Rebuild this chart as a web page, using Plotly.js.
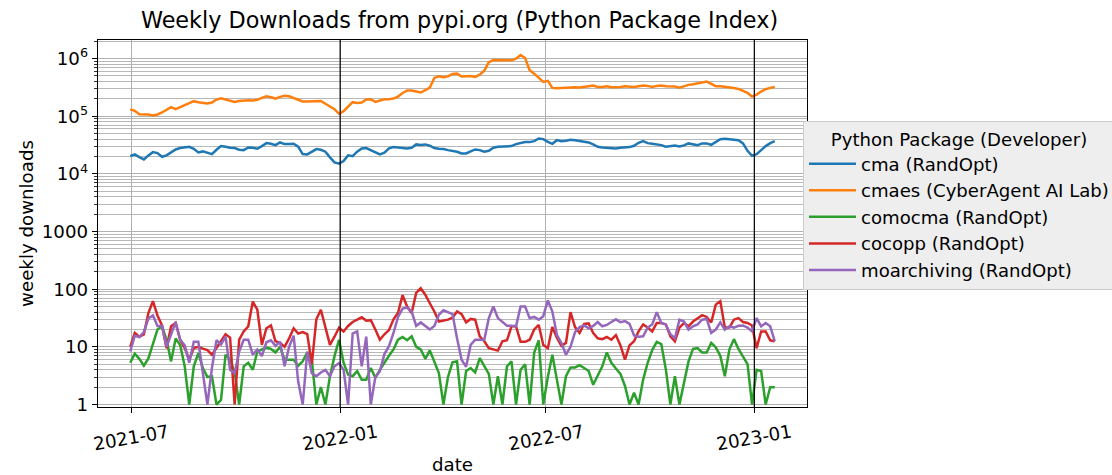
<!DOCTYPE html>
<html><head><meta charset="utf-8">
<script src="https://cdn.plot.ly/plotly-3.0.1.min.js"></script>
<style>html,body{margin:0;padding:0;background:#fff}#chart{width:1112px;height:475px}</style>
</head><body><div id="chart"></div>
<script>
const dates = ['2021-06-30','2021-07-04','2021-07-08','2021-07-12','2021-07-16','2021-07-20','2021-07-24','2021-07-28','2021-08-01','2021-08-05',
'2021-08-09','2021-08-13','2021-08-17','2021-08-21','2021-08-25','2021-08-29','2021-09-02','2021-09-06','2021-09-10','2021-09-14',
'2021-09-18','2021-09-22','2021-09-26','2021-09-30','2021-10-04','2021-10-08','2021-10-12','2021-10-16','2021-10-20','2021-10-24',
'2021-10-28','2021-11-01','2021-11-05','2021-11-09','2021-11-13','2021-11-17','2021-11-21','2021-11-25','2021-11-29','2021-12-03',
'2021-12-07','2021-12-11','2021-12-15','2021-12-19','2021-12-23','2021-12-27','2021-12-31','2022-01-04','2022-01-08','2022-01-12',
'2022-01-16','2022-01-20','2022-01-24','2022-01-28','2022-02-01','2022-02-05','2022-02-09','2022-02-13','2022-02-17','2022-02-21',
'2022-02-25','2022-03-01','2022-03-05','2022-03-09','2022-03-13','2022-03-17','2022-03-21','2022-03-25','2022-03-29','2022-04-02',
'2022-04-06','2022-04-10','2022-04-14','2022-04-18','2022-04-22','2022-04-26','2022-04-30','2022-05-04','2022-05-08','2022-05-12',
'2022-05-16','2022-05-20','2022-05-24','2022-05-28','2022-06-01','2022-06-05','2022-06-09','2022-06-13','2022-06-17','2022-06-21',
'2022-06-25','2022-06-29','2022-07-03','2022-07-07','2022-07-11','2022-07-15','2022-07-19','2022-07-23','2022-07-27','2022-07-31',
'2022-08-04','2022-08-08','2022-08-12','2022-08-16','2022-08-20','2022-08-24','2022-08-28','2022-09-01','2022-09-05','2022-09-09',
'2022-09-13','2022-09-17','2022-09-21','2022-09-25','2022-09-29','2022-10-03','2022-10-07','2022-10-11','2022-10-15','2022-10-19',
'2022-10-23','2022-10-27','2022-10-31','2022-11-04','2022-11-08','2022-11-12','2022-11-16','2022-11-20','2022-11-24','2022-11-28',
'2022-12-02','2022-12-06','2022-12-10','2022-12-14','2022-12-18','2022-12-22','2022-12-26','2022-12-30','2023-01-03','2023-01-07',
'2023-01-11','2023-01-15','2023-01-19'];

const cma = [20300,21700,19500,17800,20900,23800,22900,19800,20900,23500,
26500,28000,29100,29500,27200,23500,24500,23200,22000,26200,
30300,29500,28300,28000,26200,25800,28700,28300,27200,30300,
34100,33200,31500,35000,32800,32800,33200,29500,22000,21700,
24200,26900,26200,24200,19300,15800,15000,16700,20900,20300,
24200,27600,28000,25800,23200,21700,23200,27600,29100,28700,
28000,27600,28300,32400,31500,32400,30700,28000,27200,26900,
25800,25100,24200,22600,22600,24500,26500,25800,24200,25100,
28300,29500,29900,29500,30300,32800,34600,35500,35500,36900,
41100,40000,36000,33200,38400,36900,37400,39000,38400,36900,
36000,35000,32400,29500,28700,28300,28700,27600,28300,28700,
29100,30700,34600,36900,34100,33200,32800,31500,29500,30700,
31100,29900,31100,33700,32400,31500,33700,33700,31900,36000,
40000,40600,39500,39000,38400,33700,25100,20600,22000,25800,
30300,34100,36900];

const cmaes = [131000,124000,108000,108000,107000,103000,107000,116000,131000,143000,
132000,145000,155000,168000,182000,175000,168000,166000,172000,194000,
205000,194000,182000,177000,184000,187000,189000,187000,192000,208000,
222000,213000,202000,216000,225000,222000,208000,194000,180000,180000,
180000,180000,184000,164000,149000,132000,110000,122000,147000,175000,
170000,172000,194000,197000,177000,189000,197000,197000,202000,219000,
253000,278000,278000,267000,257000,282000,313000,461000,492000,473000,
490000,540000,547000,486000,486000,499000,479000,526000,617000,860000,
943000,943000,943000,931000,931000,995000,1150000,1020000,625000,547000,
455000,393000,409000,309000,305000,309000,313000,318000,318000,313000,
318000,331000,339000,322000,322000,331000,318000,318000,322000,331000,
326000,322000,331000,339000,335000,322000,335000,339000,331000,331000,
326000,313000,335000,349000,358000,372000,388000,398000,363000,331000,
331000,326000,313000,309000,297000,278000,253000,219000,237000,267000,
293000,309000,322000];

const comocma = [5.3,7.6,6.2,4.7,6.3,10.8,20,22.7,13.3,5.6,
14,10.8,4.6,1,4.6,7.8,4.3,3,3.1,1,
1.2,7.3,6,3.6,1,4.6,5.3,4,8.3,9,
9.7,9.2,8,10,6,6,6,4.7,5.6,8,
6,1,2,1,3.1,6.9,13.3,5.3,3.3,3.1,
3.8,2.7,2.7,4.3,2.9,4,5.4,7,9,13.3,
14.8,13,15.2,10,9,6.2,8.7,5.6,3.5,1,
3,5.4,5.6,1,3.8,4.3,3.6,6.4,4.7,3.4,
1,3.1,1,4.6,5.6,1,4,5,1,8,
13,1,3,7.3,2.7,1,3.1,4.4,4.4,4.8,
4.3,3.8,2.2,3.1,4.6,8,5.3,4.2,3.4,2.1,
1,1.6,1,2.7,5.3,8.8,12.2,11.2,4.1,1,
3.1,1,2.4,5.6,9.2,9.5,8,8,11.7,9.8,
7,3.1,9,13.6,9.2,6.7,5,1,4,3.8,
1,2,2];

const cocopp = [10,17.4,15,16.5,38.5,62,35,23.5,9.5,22.7,
26,13.3,9.5,6,9.5,10,9.3,8.8,7.3,9.6,
13,16.5,14.5,1,13.3,18.5,22.7,61,44,10.8,
21,23.5,12.5,11.7,10,14,21,17,18,16.6,
5,30,44,22.7,10.8,15,21.5,18.5,23,27,
29.6,32.5,28.5,29,20,13.3,16.5,19.5,30,39,
79,50,38.5,86,104,80,57,41,27.5,28.5,
29.6,32,41,37,26.5,30.5,29.6,15.2,12.5,9.5,
9,8.6,12.5,13,22.7,22.7,12.2,12.2,13.3,20,
24,10.8,9.5,22,14.4,10.4,11.7,40,22,17.4,
25,25.5,17.4,14.1,13.6,14.8,13.3,16,10.6,6,
10.6,12.5,18.5,24.5,21.6,18.5,25.9,25.9,24.5,15.2,
12.5,21.6,25.9,22.7,27.5,31.5,35.5,33,26.5,54,
62,21.6,21.6,29.6,31.5,27,25.9,23.5,9.5,18.5,
18.5,13,12.5];

const moarchiving = [8.3,15.6,14.8,18,31,35,23,23,10,16,
27,13.3,10.6,5.3,12.3,12.3,3.5,1,4.3,13,
11,15,4,3.5,8.3,13.3,13.3,7.3,9,6.9,
12,13,10.4,12.3,4.6,10,15.6,2.5,1,8.3,
3.5,3.1,3.6,4,3.1,4.6,5.2,4,1,17,
18.5,4.6,15,1,3,3.8,7.5,10.3,17.4,33,
46,48,41,23,26.5,22.7,20,23,36,43,
39.5,37,14.1,6,4.5,10.8,13.3,13.3,13.3,31.5,
50,31.5,27.5,23.2,23.2,22.7,50,50,31.5,33,
29.6,34,64,41,16.2,11.7,7.3,10,18,22,
23.5,21,23,27,22.7,24,27,30,26.7,28,
25,15.7,15,15.2,21.6,24.5,40,25.9,24.5,16.6,
14.1,29.6,27.5,19.9,22.7,24.5,29.6,30.5,17.4,19.9,
26.7,19.9,22.7,21.6,23.2,23.5,21.6,18.5,31.5,22.7,
25.9,22.7,12.5];

const seriesNames = ['cma (RandOpt)','cmaes (CyberAgent AI Lab)','comocma (RandOpt)','cocopp (RandOpt)','moarchiving (RandOpt)'];
const seriesColors = ['#1f77b4','#ff7f0e','#2ca02c','#d62728','#9467bd'];
const seriesValues = [cma, cmaes, comocma, cocopp, moarchiving];

const xTickDates = ['2021-07-01','2022-01-01','2022-07-01','2023-01-01'];
const xTickLabels = ['2021-07','2022-01','2022-07','2023-01'];
const yTickVals = [1,10,100,1000,1e4,1e5,1e6];
const yTickText = ['1','10','100','1000','10<sup>4</sup>','10<sup>5</sup>','10<sup>6</sup>'];
const yearStartLines = ['2022-01-01','2023-01-01'];

const minorVals = [];
for (let e = 0; e <= 6; e++) for (let m = 2; m <= 9; m++) minorVals.push(m * Math.pow(10, e));

const traces = seriesValues.map((vals, i) => ({
  type: 'scatter', mode: 'lines', x: dates, y: vals, name: seriesNames[i],
  line: {color: seriesColors[i], width: 2.5}
}));

const L = 98, R = 807, T = 40, B = 407, W = 1112, H = 475;
const font = 'DejaVu Sans, Verdana, sans-serif';
const fs = 18.2;

const layout = {
  width: W, height: H,
  margin: {l: L, r: W - R, t: T, b: H - B, autoexpand: false},
  paper_bgcolor: '#ffffff', plot_bgcolor: '#ffffff',
  font: {family: font, size: fs, color: '#000'},
  showlegend: true,
  title: {text: 'Weekly Downloads from pypi.org (Python Package Index)', font: {family: font, size: 22.3, color: '#000'},
          xref: 'container', x: 459.5 / W, xanchor: 'center', yref: 'container', y: 1 - 20 / H, yanchor: 'middle'},
  xaxis: {type: 'date', range: ['2021-06-01 14:00', '2023-02-16 10:00'],
          tickmode: 'array', tickvals: xTickDates, showticklabels: false,
          ticks: 'outside', ticklen: 5, tickwidth: 1.2, tickcolor: '#000',
          showgrid: true, gridcolor: '#b0b0b0', gridwidth: 1.2,
          showline: true, mirror: true, linecolor: '#000', linewidth: 1.3, zeroline: false,
          title: {text: 'date', font: {family: font, size: fs}, standoff: 46}},
  yaxis: {type: 'log', range: [-0.043, 6.321],
          tickmode: 'array', tickvals: yTickVals, ticktext: yTickText,
          ticks: 'outside', ticklen: 5, tickwidth: 1.2, tickcolor: '#000',
          showgrid: true, gridcolor: '#b0b0b0', gridwidth: 1.1,
          minor: {tickmode: 'array', tickvals: minorVals, ticks: 'outside', ticklen: 3, tickwidth: 0.8, tickcolor: '#000',
                  showgrid: true, gridcolor: '#b8b8b8', gridwidth: 1},
          showline: true, mirror: true, linecolor: '#000', linewidth: 1.3, zeroline: false,
          title: {text: 'weekly downloads', font: {family: font, size: fs}, standoff: 3}},
  legend: {x: (803 - L) / (R - L), xanchor: 'left', y: (B - 121) / (B - T), yanchor: 'top',
           bgcolor: '#eeeeee', bordercolor: '#cccccc', borderwidth: 1,
           font: {family: font, size: 18.1, color: '#000'},
           title: {text: 'Python Package (Developer)', side: 'top center', font: {family: font, size: 18.1}},
           itemwidth: 47, tracegroupgap: 0},
  shapes: yearStartLines.map(d => ({type: 'line', layer: 'above', xref: 'x', yref: 'paper', x0: d, x1: d, y0: 0, y1: 1,
                                    line: {color: '#000', width: 1.2}})),
  annotations: xTickDates.map((d, i) => ({xref: 'x', yref: 'paper', x: d, y: (B - 437) / (B - T),
                                          text: xTickLabels[i], showarrow: false, textangle: -10,
                                          xanchor: 'center', yanchor: 'middle', font: {family: font, size: fs, color: '#000'}}))
};

Plotly.newPlot('chart', traces, layout, {staticPlot: true, displayModeBar: false});
</script>
</body></html>
